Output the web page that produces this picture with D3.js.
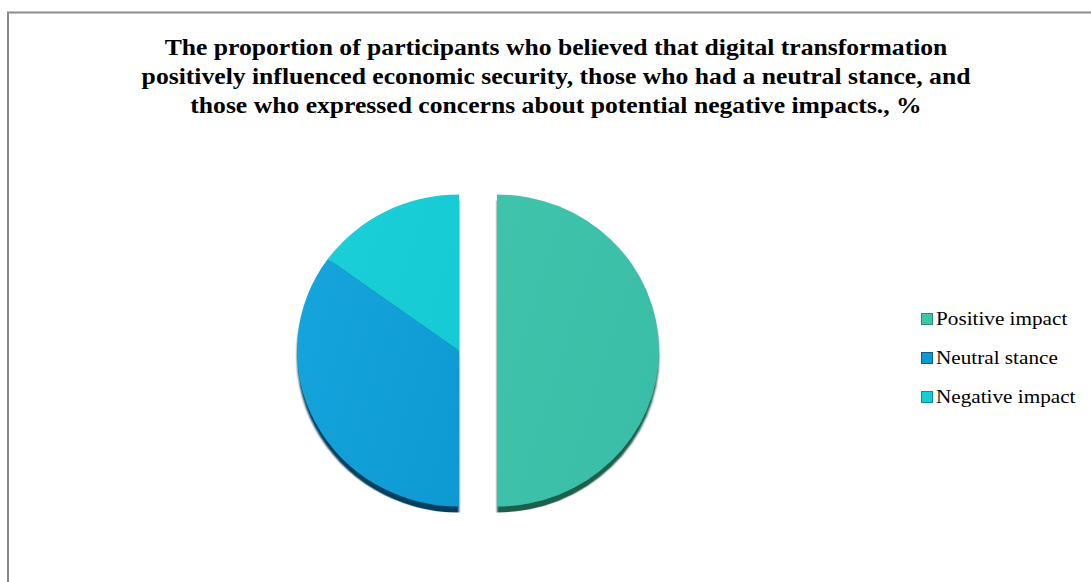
<!DOCTYPE html>
<html>
<head>
<meta charset="utf-8">
<script src="https://cdn.jsdelivr.net/npm/d3@7"></script>
<style>
  html, body { margin: 0; padding: 0; background: #fff; }
  svg { display: block; }
</style>
</head>
<body>
<svg id="chart" width="1091" height="582"></svg>
<script>
// Survey shares (%)
const categories = ["Positive impact", "Neutral stance", "Negative impact"];
const values = [50, 35, 15];
const titleLines = [
  "The proportion of participants who believed that digital transformation",
  "positively influenced economic security, those who had a neutral stance, and",
  "those who expressed concerns about potential negative impacts., %"
];

const fills = {
  "Positive impact": ["#42C6AE", "#3BBEA7"],
  "Neutral stance": ["#16A4DD", "#0894CD"],
  "Negative impact": ["#1ACFD8", "#13C6D0"]
};
const shadowFill = {
  "Positive impact": "#1E5E4B",
  "Neutral stance": "#053F5E",
  "Negative impact": "#0A6F75"
};
const legendFill = {
  "Positive impact": "#3EC4AB",
  "Neutral stance": "#0C98D3",
  "Negative impact": "#17CAD4"
};
const legendStroke = {
  "Positive impact": "#2A8A78",
  "Neutral stance": "#07608A",
  "Negative impact": "#0E8C93"
};

const serif = "'Liberation Serif', 'Times New Roman', serif";
const textStretch = 1.14; // text is set slightly wide

const svg = d3.select("#chart");

// Chart frame
svg.append("path")
  .attr("d", "M8,1000 V12.5 H1200")
  .attr("fill", "none")
  .attr("stroke", "#8a8a8a")
  .attr("stroke-width", 2);

// Title
const title = svg.append("g")
  .attr("transform", `translate(556,0) scale(${textStretch},1)`)
  .append("text")
  .attr("text-anchor", "middle")
  .style("font-family", serif)
  .style("font-weight", "bold")
  .style("font-size", "22.5px")
  .attr("fill", "#000");
titleLines.forEach((t, i) => {
  title.append("tspan").attr("x", 0).attr("y", 55 + i * 29).text(t);
});

// Pie
const cx = 459, cy = 350.5, rx = 162, ry = 156;
const explode = { "Positive impact": 38, "Neutral stance": 0, "Negative impact": 0 };

const pie = d3.pie().sort(null).value(d => d.value);
const arcs = pie(categories.map((c, i) => ({ name: c, value: values[i] })));
const arc = d3.arc().innerRadius(0).outerRadius(rx);

const defs = svg.append("defs");
categories.forEach((c, i) => {
  const g = defs.append("linearGradient")
    .attr("id", "grad" + i)
    .attr("gradientUnits", "userSpaceOnUse")
    .attr("x1", -rx).attr("y1", -rx * 0.3)
    .attr("x2", rx).attr("y2", rx * 0.3);
  g.append("stop").attr("offset", "0%").attr("stop-color", fills[c][0]);
  g.append("stop").attr("offset", "100%").attr("stop-color", fills[c][1]);
});
defs.append("filter").attr("id", "soft")
  .append("feGaussianBlur").attr("stdDeviation", 0.8);

function sliceOffset(d) {
  const mid = (d.startAngle + d.endAngle) / 2;
  const off = explode[d.data.name];
  return [Math.sin(mid) * off, -Math.cos(mid) * off];
}

const pieG = svg.append("g")
  .attr("transform", `translate(${cx},${cy})`);

// bottom rim shading
pieG.selectAll("path.rim")
  .data(arcs)
  .join("path")
  .attr("class", "rim")
  .attr("filter", "url(#soft)")
  .attr("transform", d => {
    const [ox, oy] = sliceOffset(d);
    return `translate(${ox},${oy + 6}) scale(1,${ry / rx})`;
  })
  .attr("d", arc)
  .attr("fill", d => shadowFill[d.data.name]);

// slice faces
pieG.selectAll("path.face")
  .data(arcs)
  .join("path")
  .attr("class", "face")
  .attr("transform", d => {
    const [ox, oy] = sliceOffset(d);
    return `translate(${ox},${oy}) scale(1,${ry / rx})`;
  })
  .attr("d", arc)
  .attr("fill", d => `url(#grad${categories.indexOf(d.data.name)})`);

// Legend
const legend = svg.append("g").attr("transform", "translate(921,0)");
const rowY = d3.scalePoint().domain(categories).range([319, 397]);
const item = legend.selectAll("g.item")
  .data(categories)
  .join("g")
  .attr("class", "item")
  .attr("transform", d => `translate(0,${rowY(d)})`);
item.append("rect")
  .attr("x", 0.5).attr("y", -5.5)
  .attr("width", 11).attr("height", 11)
  .attr("fill", d => legendFill[d])
  .attr("stroke", d => legendStroke[d])
  .attr("stroke-width", 1);
item.append("g")
  .attr("transform", `translate(15,0) scale(${textStretch},1)`)
  .append("text")
  .attr("x", 0)
  .attr("y", 6)
  .style("font-family", serif)
  .style("font-size", "18.6px")
  .attr("fill", "#000")
  .text(d => d);
</script>
</body>
</html>
